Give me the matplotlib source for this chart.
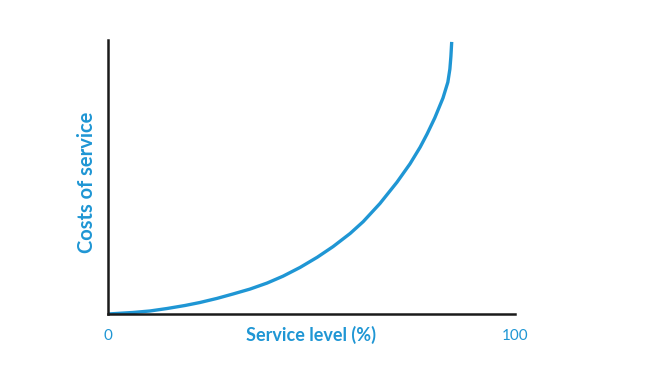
import matplotlib
matplotlib.use("Agg")
import matplotlib.pyplot as plt

service_level = [0, 6.1, 10.3, 14.5, 18.9, 22.6, 26.8, 30.7, 34.9, 39.1, 43.0, 47.2, 51.4,
                 55.3, 59.5, 62.7, 66.8, 71.0, 74.2, 76.7, 78.4, 80.3, 82.3, 83.5, 84.0, 84.25, 84.45]
cost_of_service = [0, 0.55, 1.1, 2.0, 3.1, 4.2, 5.7, 7.3, 9.1, 11.3, 13.8, 17.0, 20.7,
                   24.6, 29.4, 33.7, 40.3, 48.1, 54.8, 60.9, 65.7, 71.6, 78.8, 84.6, 89.4, 94.0, 99.3]
x_ticks = [0, 100]
x_tick_labels = ["0", "100"]
x_label = "Service level (%)"
y_label = "Costs of service"

blue = "#1f96d4"
plt.rcParams['font.family'] = ['Lato', 'DejaVu Sans']

fig = plt.figure(figsize=(6.48, 3.65), dpi=100)
ax = fig.add_axes([108/648, 1-314/365, (515-108)/648, (314-40)/365])
ax.plot(service_level, cost_of_service, color=blue, lw=2.4, solid_capstyle='butt',
        solid_joinstyle='round')
ax.set_xlim(0, 100)
ax.set_ylim(0, 100)
for s in ['top', 'right']:
    ax.spines[s].set_visible(False)
for s in ['left', 'bottom']:
    ax.spines[s].set_linewidth(1.8)
    ax.spines[s].set_color('#1a1a1a')
ax.set_yticks([])
ax.set_xticks(x_ticks)
ax.set_xticklabels(x_tick_labels, color=blue, fontsize=11)
ax.tick_params(axis='x', length=0, pad=11)
fig.text(311.5/648, 1-335/365, x_label, color=blue, fontsize=13, fontweight='bold',
         ha='center', va='center')
fig.text(87/648, 1-182.5/365, y_label, color=blue, fontsize=14.5, fontweight='bold',
         ha='center', va='center', rotation=90)
fig.savefig("out.png", dpi=100)
